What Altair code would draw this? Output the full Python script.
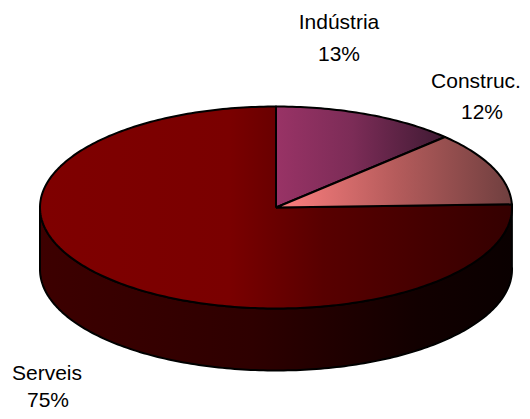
import math
import altair as alt
import pandas as pd

# Chart values
sectors = ["Indústria", "Construc.", "Serveis"]
shares = [12.7, 11.8, 75.5]
labels = ["13%", "12%", "75%"]

# Layout of the tilted pie, in page pixels
CX, CY, RX, RY, DEPTH = 276, 207.5, 236, 101, 62
W, H = 514, 403
x_scale = alt.Scale(domain=[8, 8 + W], range=[0, W], nice=False, zero=False)
y_scale = alt.Scale(domain=[8, 8 + H], range=[0, H], nice=False, zero=False)


def rim(deg, dy=0.0):
    a = math.radians(deg)
    return CX + RX * math.sin(a), CY - RY * math.cos(a) + dy


def outline(points):
    pts = points + [points[0]]
    return pd.DataFrame([{"x": p[0], "y": p[1], "i": i} for i, p in enumerate(pts)])


def polygon(df, stops):
    grad = alt.Gradient(
        gradient="linear",
        x1=0, x2=1, y1=0, y2=0,
        stops=[alt.GradientStop(offset=o, color=c) for o, c in stops],
    )
    return alt.Chart(df).mark_line(
        fill=grad, stroke="black", strokeWidth=2, strokeJoin="round", clip=False
    ).encode(
        x=alt.X("x:Q", scale=x_scale, axis=None),
        y=alt.Y("y:Q", scale=y_scale, axis=None),
        order="i:Q",
    )


ends = []
acc = 0
for s in shares:
    acc += s
    ends.append(acc * 3.6)
a1, a2 = ends[0], ends[1]


def sweep(a, b):
    n = int(abs(b - a)) + 2
    return [a + (b - a) * i / (n - 1) for i in range(n)]


def slice_pts(a, b):
    return [(CX, CY)] + [rim(d) for d in sweep(a, b)]


wall_angles = sweep(a2, 270)
wall_pts = [rim(d) for d in wall_angles] + [rim(d, DEPTH) for d in reversed(wall_angles)]

layers = [
    polygon(outline(wall_pts), [(0, "#3d0000"), (0.45, "#2e0000"), (0.8, "#120000"), (1, "#0a0000")]),
    polygon(outline(slice_pts(a2, 360)), [(0, "#7f0000"), (0.4, "#7a0000"), (0.6, "#580000"), (1, "#340000")]),
    polygon(outline(slice_pts(0, a1)), [(0, "#993366"), (0.45, "#7c2c57"), (1, "#3f1a33")]),
    polygon(outline(slice_pts(a1, a2)), [(0, "#ff8080"), (0.5, "#b65c5c"), (1, "#6f3f3f")]),
]

text_spots = [
    (sectors[0], 339, 23), (labels[0], 339, 55),
    (sectors[1], 476, 82), (labels[1], 482, 113),
    (sectors[2], 47, 374), (labels[2], 48, 401),
]
for t, px, py in text_spots:
    layers.append(
        alt.Chart(pd.DataFrame({"t": [t], "x": [px], "y": [py]})).mark_text(
            font="Liberation Sans", fontSize=21, color="black", align="center", baseline="middle"
        ).encode(
            x=alt.X("x:Q", scale=x_scale, axis=None),
            y=alt.Y("y:Q", scale=y_scale, axis=None),
            text="t:N",
        )
    )

chart = alt.layer(*layers).properties(
    width=W, height=H, padding=0, autosize=alt.AutoSizeParams(type="none")
).configure_view(stroke=None)

chart.save("out.html", embed_options={"renderer": "svg", "actions": False})
